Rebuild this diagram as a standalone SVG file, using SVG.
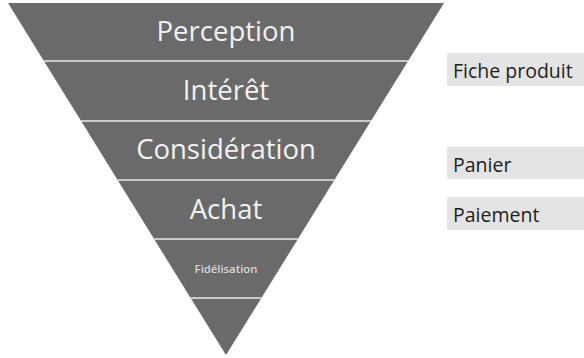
<svg xmlns="http://www.w3.org/2000/svg" width="584" height="358" viewBox="0 0 584 358">
<style>
.seg{fill:#6a6a6a}
.sep{stroke:#c9c9c9;stroke-width:2}
.t{font-family:"Open Sans","Noto Sans",sans-serif;fill:#f2f2f2;text-anchor:middle}
.big{font-size:27.5px}
.small{font-size:11.3px;font-weight:600;fill:#d8d8d8}
.box{fill:#e4e4e4}
.bt{font-family:"Open Sans","Noto Sans",sans-serif;font-size:19.5px;fill:#1e1e1e}
</style>
<rect width="584" height="358" fill="#ffffff"/>
<g id="perception"><polygon class="seg" points="8,3 444,3 408.1,61 43.9,61"/><text class="t big" x="226" y="41">Perception</text></g>
<g id="interet"><polygon class="seg" points="43.9,61 408.1,61 370.9,121 81.1,121"/><text class="t big" x="226" y="100">Intérêt</text></g>
<g id="consideration"><polygon class="seg" points="81.1,121 370.9,121 334.4,180 117.6,180"/><text class="t big" x="226" y="159">Considération</text></g>
<g id="achat"><polygon class="seg" points="117.6,180 334.4,180 297.9,239 154.1,239"/><text class="t big" x="226" y="219">Achat</text></g>
<g id="fidelisation"><polygon class="seg" points="154.1,239 297.9,239 261.4,298 190.6,298"/><text class="t small" x="226" y="273">Fidélisation</text></g>
<g id="bottom"><polygon class="seg" points="190.6,298 261.4,298 226,355"/></g>
<g id="connectors">
<line class="sep" x1="43.9" y1="61" x2="408.1" y2="61"/>
<line class="sep" x1="81.1" y1="121" x2="370.9" y2="121"/>
<line class="sep" x1="117.6" y1="180" x2="334.4" y2="180"/>
<line class="sep" x1="154.1" y1="239" x2="297.9" y2="239"/>
<line class="sep" x1="190.6" y1="298" x2="261.4" y2="298"/>
</g>
<g id="fiche-produit"><rect class="box" x="447" y="53" width="137" height="33"/><text class="bt" x="453" y="78">Fiche produit</text></g>
<g id="panier"><rect class="box" x="447" y="147" width="137" height="32"/><text class="bt" x="453" y="172">Panier</text></g>
<g id="paiement"><rect class="box" x="447" y="197" width="137" height="33"/><text class="bt" x="453" y="222">Paiement</text></g>
</svg>
